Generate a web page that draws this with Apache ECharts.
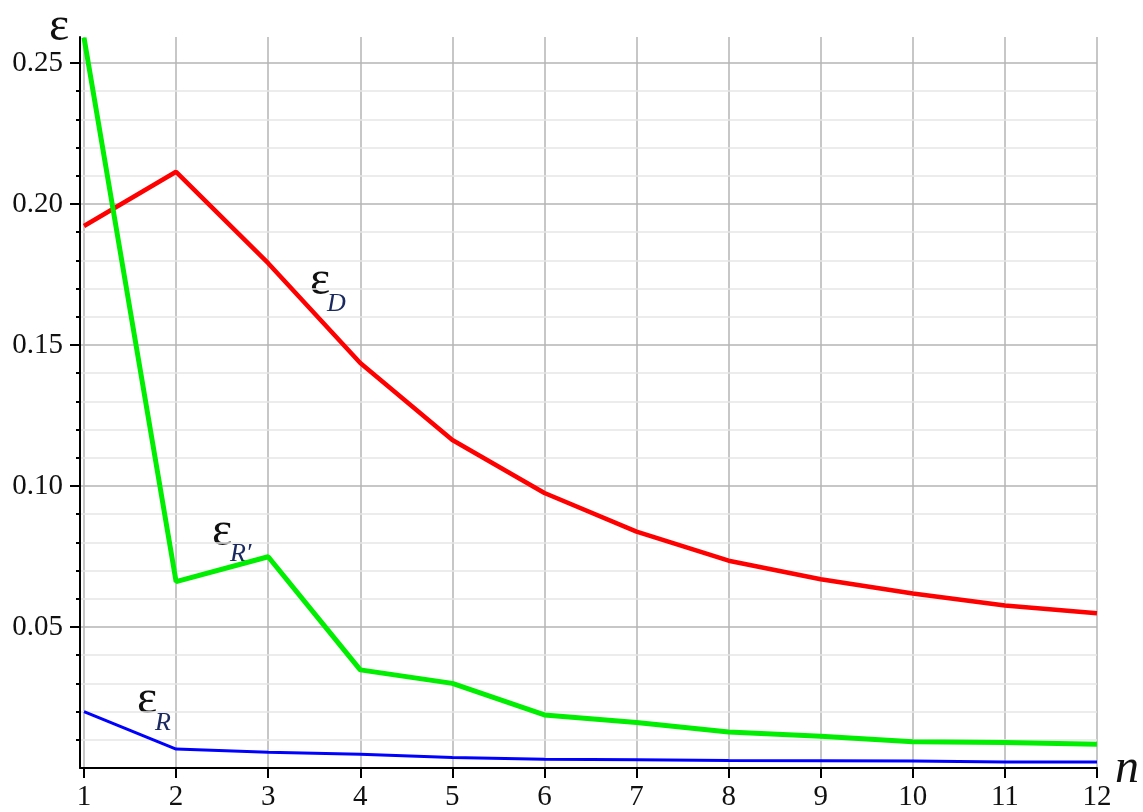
<!DOCTYPE html>
<html>
<head>
<meta charset="utf-8">
<script src="https://cdn.jsdelivr.net/npm/echarts@6/dist/echarts.min.js"></script>
<style>
html,body{margin:0;padding:0;background:#fff;}
#chart{width:1143px;height:812px;}
</style>
</head>
<body>
<div id="chart"></div>
<script>
// ---- data ----
var nValues = [1, 2, 3, 4, 5, 6, 7, 8, 9, 10, 11, 12];
var epsD = [0.1922, 0.2114, 0.179, 0.1436, 0.1163, 0.0975, 0.0838, 0.0735, 0.0669, 0.0619, 0.0576, 0.0549];
var epsRprime = [0.259, 0.0661, 0.0749, 0.0348, 0.0300, 0.0188, 0.0161, 0.0128, 0.0113, 0.0093, 0.0090, 0.0084];
var epsR = [0.0200, 0.0067, 0.0056, 0.0049, 0.0037, 0.0031, 0.0029, 0.0027, 0.0026, 0.0025, 0.0021, 0.0021];
var yMajorTicks = [0.05, 0.10, 0.15, 0.20, 0.25];
var yMinorTicks = [0.01, 0.02, 0.03, 0.04, 0.06, 0.07, 0.08, 0.09, 0.11, 0.12, 0.13, 0.14,
                   0.16, 0.17, 0.18, 0.19, 0.21, 0.22, 0.23, 0.24];
var xTicks = [1, 2, 3, 4, 5, 6, 7, 8, 9, 10, 11, 12];
// annotation anchors (data units): [n, value]
var annotations = [
  {main: 'ε', sub: 'D', mainAt: [3.454, 0.1641], subAt: [3.639, 0.1600]},
  {main: 'ε', sub: 'R′', mainAt: [2.390, 0.0751], subAt: [2.585, 0.0713]},
  {main: 'ε', sub: 'R', mainAt: [1.576, 0.0155], subAt: [1.771, 0.0114]}
];

function pairs(xs, ys) { return xs.map(function (x, i) { return [x, ys[i]]; }); }

var serif = '"Liberation Serif", "DejaVu Serif", serif';
var chart = echarts.init(document.getElementById('chart'), null, {renderer: 'canvas'});

var option = {
  animation: false,
  backgroundColor: '#ffffff',
  grid: {left: 80, right: 46, top: 37, bottom: 44, containLabel: false},
  xAxis: {
    type: 'value', min: 1 - 4 / 92.09, max: 12,
    axisLine: {show: true, onZero: false, lineStyle: {color: '#000', width: 2}},
    axisTick: {show: true, inside: false, length: 10, customValues: xTicks, lineStyle: {color: '#000', width: 2}},
    axisLabel: {show: true, customValues: xTicks, margin: 15, color: '#111', fontFamily: serif, fontSize: 29,
      formatter: function (v) { return String(Math.round(v)); }},
    splitLine: {show: true, lineStyle: {color: '#b4b4b4', width: 1.5}},
    minorTick: {show: false}, minorSplitLine: {show: false}
  },
  yAxis: [
    {
      type: 'value', min: 0, max: 0.2592, z: 2,
      axisLine: {show: true, onZero: false, lineStyle: {color: '#000', width: 2}},
      axisTick: {show: true, inside: false, length: 10, customValues: yMajorTicks, lineStyle: {color: '#000', width: 2}},
      axisLabel: {show: true, customValues: yMajorTicks, margin: 17, color: '#111', fontFamily: serif, fontSize: 29,
        formatter: function (v) { return v.toFixed(2); }},
      splitLine: {show: true, lineStyle: {color: '#b4b4b4', width: 1.5}}
    },
    {
      type: 'value', min: 0, max: 0.2592, z: 1, position: 'left',
      axisLine: {show: false},
      axisTick: {show: true, inside: false, length: 4, customValues: yMinorTicks, lineStyle: {color: '#000', width: 2}},
      axisLabel: {show: false, customValues: yMinorTicks},
      splitLine: {show: true, lineStyle: {color: '#e6e6e6', width: 1.5}}
    }
  ],
  series: [
    {type: 'line', name: 'εD', data: pairs(nValues, epsD), showSymbol: false, z: 3,
      lineStyle: {color: '#ff0000', width: 4.5}, itemStyle: {color: '#ff0000'}},
    {type: 'line', name: 'εR′', data: pairs(nValues, epsRprime), showSymbol: false, z: 4,
      lineStyle: {color: '#00ee00', width: 5}, itemStyle: {color: '#00ee00'}},
    {type: 'line', name: 'εR', data: pairs(nValues, epsR), showSymbol: false, z: 5,
      lineStyle: {color: '#0000ff', width: 3}, itemStyle: {color: '#0000ff'}}
  ]
};
chart.setOption(option);

function place() {
  var g = [];
  // axis titles
  g.push({type: 'text', left: 49, top: 3, style: {text: 'ε', font: '48px ' + serif, fill: '#111'}});
  g.push({type: 'text', left: 1115, top: 745, style: {text: 'n', font: 'italic 48px ' + serif, fill: '#111'}});
  annotations.forEach(function (a) {
    var p = chart.convertToPixel({gridIndex: 0}, a.mainAt);
    var q = chart.convertToPixel({gridIndex: 0}, a.subAt);
    g.push({type: 'text', x: p[0], y: p[1], style: {text: a.main, font: '48px ' + serif, fill: '#111',
      align: 'left', verticalAlign: 'bottom'}});
    g.push({type: 'text', x: q[0], y: q[1], style: {text: a.sub, font: 'italic 26px ' + serif, fill: '#1a2a60',
      align: 'left', verticalAlign: 'bottom'}});
  });
  chart.setOption({graphic: g});
}
place();
</script>
</body>
</html>
